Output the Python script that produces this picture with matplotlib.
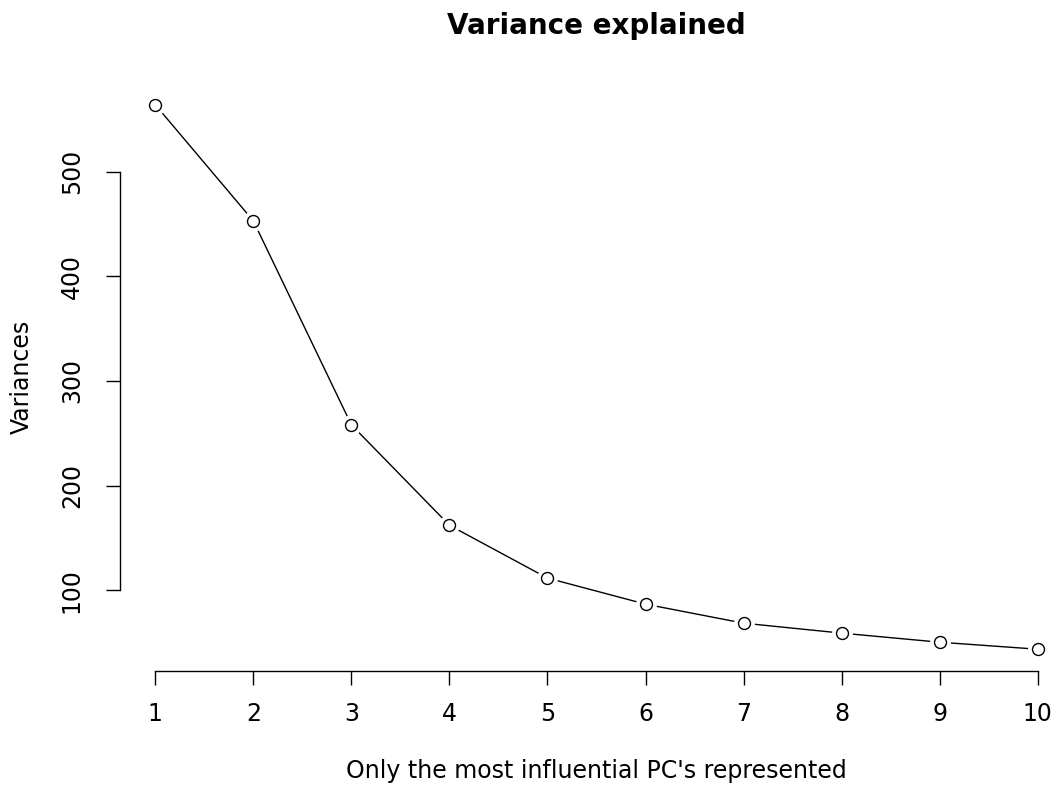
import matplotlib
matplotlib.use("Agg")
import matplotlib.pyplot as plt

components = [1, 2, 3, 4, 5, 6, 7, 8, 9, 10]
variances = [564, 453, 258, 162, 111.5, 86.6, 68.4, 58.9, 50.2, 43.5]
xticks = [1, 2, 3, 4, 5, 6, 7, 8, 9, 10]
yticks = [100, 200, 300, 400, 500]

W, H = 1055, 807
fig = plt.figure(figsize=(W / 100, H / 100), dpi=100)
ax = fig.add_axes([120 / W, (H - 671) / H, (1073 - 120) / W, (671 - 83) / H])

ax.plot(components, variances, color="black", lw=1.0, zorder=1)
ax.plot(components, variances, ls="none", marker="o", ms=14, mfc="white", mec="white", zorder=2)
ax.plot(components, variances, ls="none", marker="o", ms=8.6, mfc="white", mec="black", mew=1.0, zorder=3)

ax.set_xlim(1 - 0.36, 10 + 0.36)
lo, hi = min(variances), max(variances)
pad = (hi - lo) * 0.04
ax.set_ylim(lo - pad, hi + pad)

for s in ["top", "right"]:
    ax.spines[s].set_visible(False)
ax.spines["left"].set_bounds(100, 500)
ax.spines["bottom"].set_bounds(1, 10)
for s in ["left", "bottom"]:
    ax.spines[s].set_linewidth(1.0)

ax.set_xticks(xticks)
ax.set_yticks(yticks)
ax.set_yticklabels([str(v) for v in yticks], rotation=90, va="center")
ax.tick_params(axis="both", direction="out", length=10, width=1.0, labelsize=17)
ax.tick_params(axis="x", pad=12)
ax.tick_params(axis="y", pad=16)

ax.set_xlabel("Only the most influential PC's represented", fontsize=17, labelpad=24)
ax.set_ylabel("Variances", fontsize=17, labelpad=19)
fig.text((445 + 747) / 2 / W, 1 - 26 / H, "Variance explained", fontsize=20, fontweight="bold",
         ha="center", va="center")

fig.savefig("out.png", dpi=100)
